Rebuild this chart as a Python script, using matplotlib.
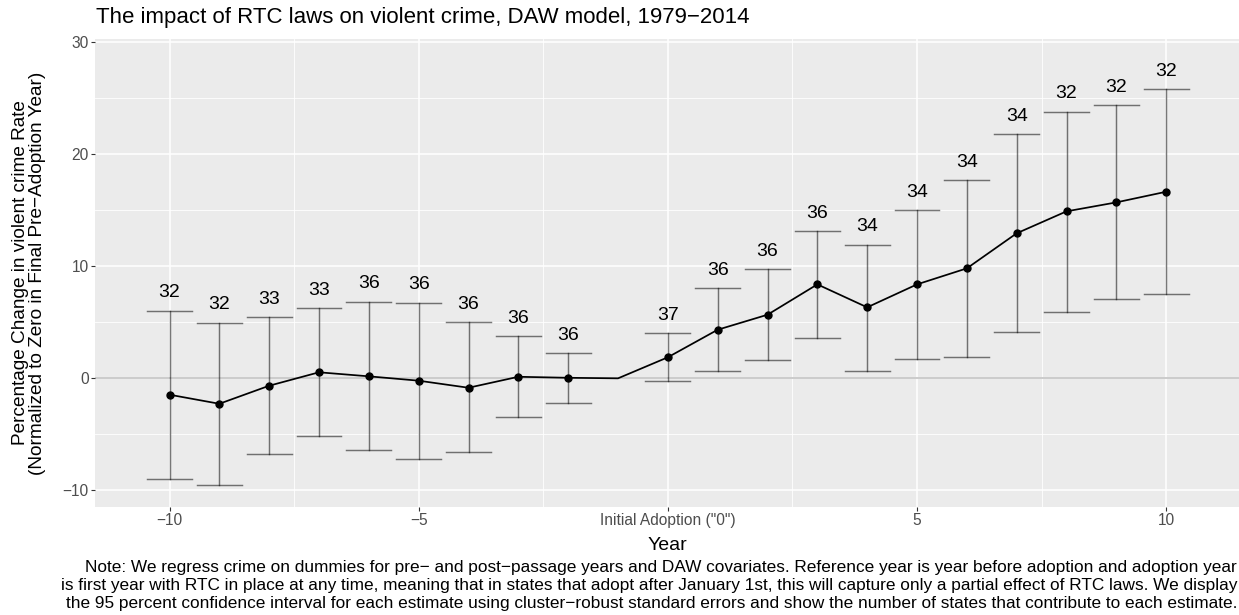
import matplotlib
matplotlib.use('Agg')
import matplotlib.pyplot as plt
import numpy as np

plt.rcParams['font.family'] = ['Liberation Sans', 'DejaVu Sans']

# years relative to adoption, estimate, 95% CI and number of states
years = [-10, -9, -8, -7, -6, -5, -4, -3, -2, -1, 0, 1, 2, 3, 4, 5, 6, 7, 8, 9, 10]
estimate = [-1.46, -2.27, -0.66, 0.54, 0.18, -0.21, -0.84, 0.14, 0.05, 0.0,
            1.88, 4.34, 5.68, 8.39, 6.34, 8.39, 9.82, 12.95, 14.91, 15.71, 16.66]
ci_low = [-8.99, -9.53, -6.79, -5.15, -6.43, -7.20, -6.58, -3.48, -2.18, None,
          -0.27, 0.68, 1.66, 3.63, 0.65, 1.72, 1.88, 4.10, 5.92, 7.05, 7.50]
ci_high = [6.04, 4.97, 5.47, 6.25, 6.84, 6.75, 5.00, 3.78, 2.23, None,
           4.02, 8.06, 9.73, 13.13, 11.93, 15.03, 17.68, 21.80, 23.80, 24.40, 25.80]
n_states = [32, 32, 33, 33, 36, 36, 36, 36, 36, None,
            37, 36, 36, 36, 34, 34, 34, 34, 32, 32, 32]

x_ticks = [-10, -5, 0, 5, 10]
x_ticklabels = ['\u221210', '\u22125', 'Initial Adoption ("0")', '5', '10']
y_ticks = [-10, 0, 10, 20, 30]
y_ticklabels = ['\u221210', '0', '10', '20', '30']

title = 'The impact of RTC laws on violent crime, DAW model, 1979\u22122014'
ylabel = 'Percentage Change in violent crime Rate\n(Normalized to Zero in Final Pre\u2212Adoption Year)'
note_lines = [
    'Note: We regress crime on dummies for pre\u2212 and post\u2212passage years and DAW covariates. Reference year is year before adoption and adoption year',
    'is first year with RTC in place at any time, meaning that in states that adopt after January 1st, this will capture only a partial effect of RTC laws. We display',
    'the 95 percent confidence interval for each estimate using cluster\u2212robust standard errors and show the number of states that contribute to each estimate.',
]

W, H = 1239, 615
fig = plt.figure(figsize=(W / 100, H / 100), dpi=100)

# panel position in pixels (right edge runs past the image like the original)
left, right, top, bottom = 95, 1240.7, 39.3, 506.7
ax = fig.add_axes([left / W, 1 - bottom / H, (right - left) / W, (bottom - top) / H])
ax.set_facecolor('#EBEBEB')
for s in ax.spines.values():
    s.set_visible(False)

ax.set_xlim(-11.495, 11.495)
ax.set_ylim(-11.46, 30.27)

for v in [-7.5, -2.5, 2.5, 7.5]:
    ax.axvline(v, color='white', lw=0.6, zorder=0)
for v in [-5, 5, 15, 25]:
    ax.axhline(v, color='white', lw=0.6, zorder=0)
for v in x_ticks:
    ax.axvline(v, color='white', lw=1.15, zorder=0)
for v in y_ticks:
    ax.axhline(v, color='white', lw=1.15, zorder=0)

ax.axhline(0, color='#cbcbcb', lw=1.4, zorder=1)

# error bars
half = 0.45
for t, lo, hi in zip(years, ci_low, ci_high):
    if lo is None:
        continue
    ax.plot([t, t], [lo, hi], color='black', alpha=0.52, lw=1.05, zorder=2)
    ax.plot([t - half, t + half], [lo, lo], color='black', alpha=0.52, lw=1.05, zorder=2)
    ax.plot([t - half, t + half], [hi, hi], color='black', alpha=0.52, lw=1.05, zorder=2)

ax.plot(years, estimate, color='black', lw=1.25, zorder=3)
pts_x = [t for t, n in zip(years, n_states) if n is not None]
pts_y = [e for e, n in zip(estimate, n_states) if n is not None]
ax.plot(pts_x, pts_y, 'o', color='black', ms=5, zorder=4)

for t, hi, n in zip(years, ci_high, n_states):
    if n is None:
        continue
    ax.annotate(str(n), (t, hi), xytext=(0, 9.6), textcoords='offset points',
                ha='center', va='baseline', fontsize=14, color='black')

ax.set_xticks(x_ticks)
ax.set_xticklabels(x_ticklabels)
ax.set_yticks(y_ticks)
ax.set_yticklabels(y_ticklabels)
ax.tick_params(axis='both', length=2.6, width=0.8, color='#333333',
               labelcolor='#4d4d4d', labelsize=11.2, pad=2)

fig.text(96 / W, 1 - 23.5 / H, title, fontsize=16, ha='left', va='baseline')
fig.text(667.5 / W, 1 - 550 / H, 'Year', fontsize=14, ha='center', va='baseline')
fig.text(29 / W, 1 - 273 / H, ylabel, fontsize=13.7, rotation=90,
         ha='center', va='center', multialignment='center', linespacing=1.0)

# caption is right aligned like ggplot's default
for i, line in enumerate(note_lines):
    fig.text(1237 / W, 1 - (571.7 + 18 * i) / H, line, fontsize=12.4,
             ha='right', va='baseline')

fig.savefig('out.png', dpi=100)
